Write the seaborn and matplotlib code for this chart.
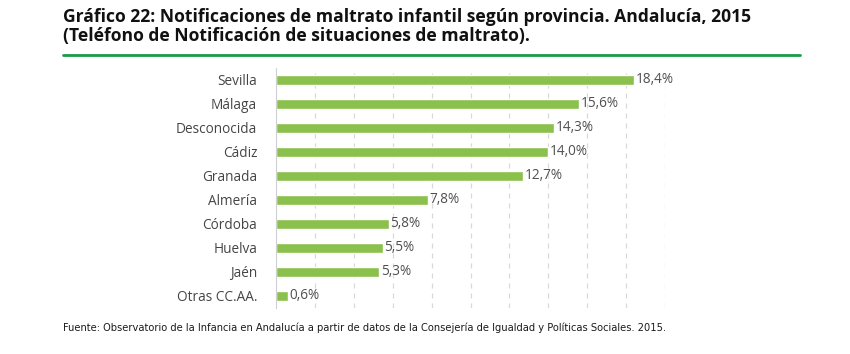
import numpy as np
import matplotlib.pyplot as plt
import seaborn as sns
from matplotlib.lines import Line2D

provincias = ['Sevilla', 'Málaga', 'Desconocida', 'Cádiz', 'Granada',
              'Almería', 'Córdoba', 'Huelva', 'Jaén', 'Otras CC.AA.']
porcentajes = [18.4, 15.6, 14.3, 14.0, 12.7, 7.8, 5.8, 5.5, 5.3, 0.6]

sns.set_style('white')
plt.rcParams['font.family'] = ['Open Sans', 'DejaVu Sans']

fig = plt.figure(figsize=(8.5, 3.54), dpi=100)
ax = fig.add_axes([276 / 850, 1 - 308 / 354, (665 - 276) / 850, (308 - 68) / 354])

sns.barplot(x=porcentajes, y=provincias, color='#8bc04c', saturation=1,
            width=0.42, ax=ax, orient='h')

for i, v in enumerate(porcentajes):
    ax.text(v + 0.08, i, f'{v:.1f}%'.replace('.', ','), va='center', ha='left',
            fontsize=9.8, color='#505050')

ax.set_xlim(0, 20)
ax.set_ylim(9.5, -0.5)
ax.set_xticks(np.arange(2, 21, 2))
ax.set_xticklabels([])
ax.tick_params(axis='x', length=0)
ax.grid(axis='x', color='#d9d9d9', linestyle=(0, (4, 4)), linewidth=0.9)
ax.set_axisbelow(True)
for s in ['top', 'right', 'bottom']:
    ax.spines[s].set_visible(False)
ax.spines['left'].set_color('#d0d0d0')
ax.tick_params(axis='y', length=0, labelsize=9.8, labelcolor='#454545', pad=13.5)
ax.set_yticks(np.arange(-0.5, 10, 1), minor=True)
ax.tick_params(axis='y', which='minor', length=5, color='#d0d0d0', direction='out')
ax.set_xlabel('')
ax.set_ylabel('')

fig.text(63 / 850, 1 - 17 / 354,
         'Gráfico 22: Notificaciones de maltrato infantil según provincia. Andalucía, 2015',
         fontsize=12.6, fontweight='bold', va='center', ha='left', color='#111111')
fig.text(63 / 850, 1 - 36 / 354,
         '(Teléfono de Notificación de situaciones de maltrato).',
         fontsize=12.6, fontweight='bold', va='center', ha='left', color='#111111')
fig.add_artist(Line2D([63 / 850, 800 / 850], [1 - 55 / 354] * 2,
                      color='#1a9a4a', linewidth=2, transform=fig.transFigure))
fig.text(63 / 850, 1 - 328 / 354,
         'Fuente: Observatorio de la Infancia en Andalucía a partir de datos de la Consejería de Igualdad y Políticas Sociales. 2015.',
         fontsize=7.9, va='center', ha='left', color='#1a1a1a',
         family=['Liberation Sans Narrow', 'DejaVu Sans'], stretch='condensed')

fig.savefig('out.png', dpi=100)
